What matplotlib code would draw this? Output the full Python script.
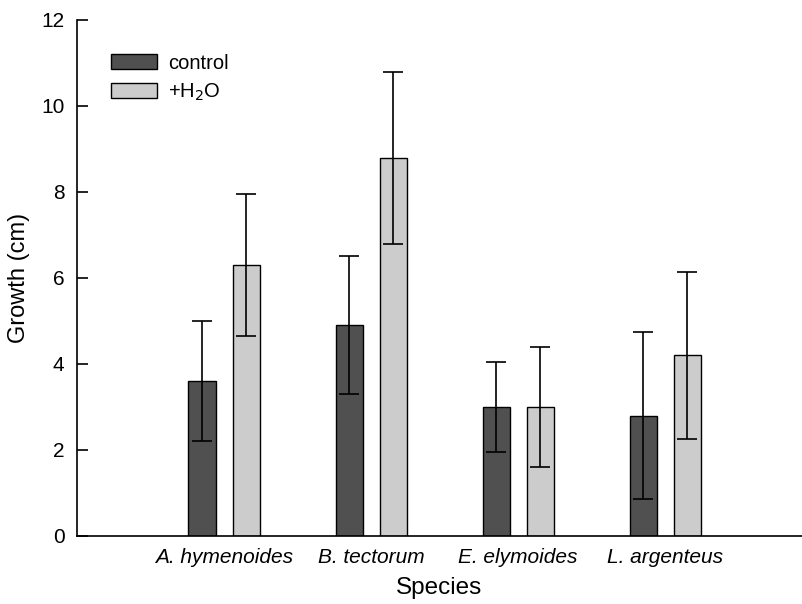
import matplotlib
matplotlib.use("Agg")
import matplotlib.pyplot as plt
import numpy as np

plt.rcParams['font.family'] = ['Liberation Sans', 'DejaVu Sans']

species = ["A. hymenoides", "B. tectorum", "E. elymoides", "L. argenteus"]
control = [3.6, 4.9, 3.0, 2.8]
control_err = [1.4, 1.6, 1.05, 1.95]
water = [6.3, 8.8, 3.0, 4.2]
water_err = [1.65, 2.0, 1.4, 1.95]

x = np.arange(1, len(species) + 1)
w = 0.184
off = 0.15

fig = plt.figure(figsize=(8.02, 6.04), dpi=100)
ax = fig.add_axes([0.096, 0.1126, 0.904, 0.8544])

err_kw = dict(ecolor="black", elinewidth=1.2, capsize=7, capthick=1.2)
ax.bar(x - off, control, w, yerr=control_err, color="#505050",
       edgecolor="black", linewidth=1.0, label="control", error_kw=err_kw)
ax.bar(x + off, water, w, yerr=water_err, color="#cccccc",
       edgecolor="black", linewidth=1.0, label="+H$_2$O", error_kw=err_kw)

ax.set_xlim(0, 4.93)
ax.set_ylim(0, 12)
ax.set_yticks([0, 2, 4, 6, 8, 10, 12])
ax.set_xticks(x)
ax.set_xticklabels(species, fontstyle="italic", fontsize=15)
ax.tick_params(axis="x", length=0, pad=9)
ax.tick_params(axis="y", direction="in", length=8, width=1.2, labelsize=15, pad=9)

for s in ["top", "right"]:
    ax.spines[s].set_visible(False)
ax.spines["left"].set_linewidth(1.2)
ax.spines["bottom"].set_linewidth(1.2)

ax.set_xlabel("Species", fontsize=17.5, labelpad=7)
ax.set_ylabel("Growth (cm)", fontsize=17, labelpad=8)

ax.legend(loc="upper left", bbox_to_anchor=(0.022, 0.97), frameon=False,
          fontsize=14.5, handlelength=2.3, handleheight=0.75, labelspacing=0.45,
          handletextpad=0.55)

fig.savefig("out.png", dpi=100)
